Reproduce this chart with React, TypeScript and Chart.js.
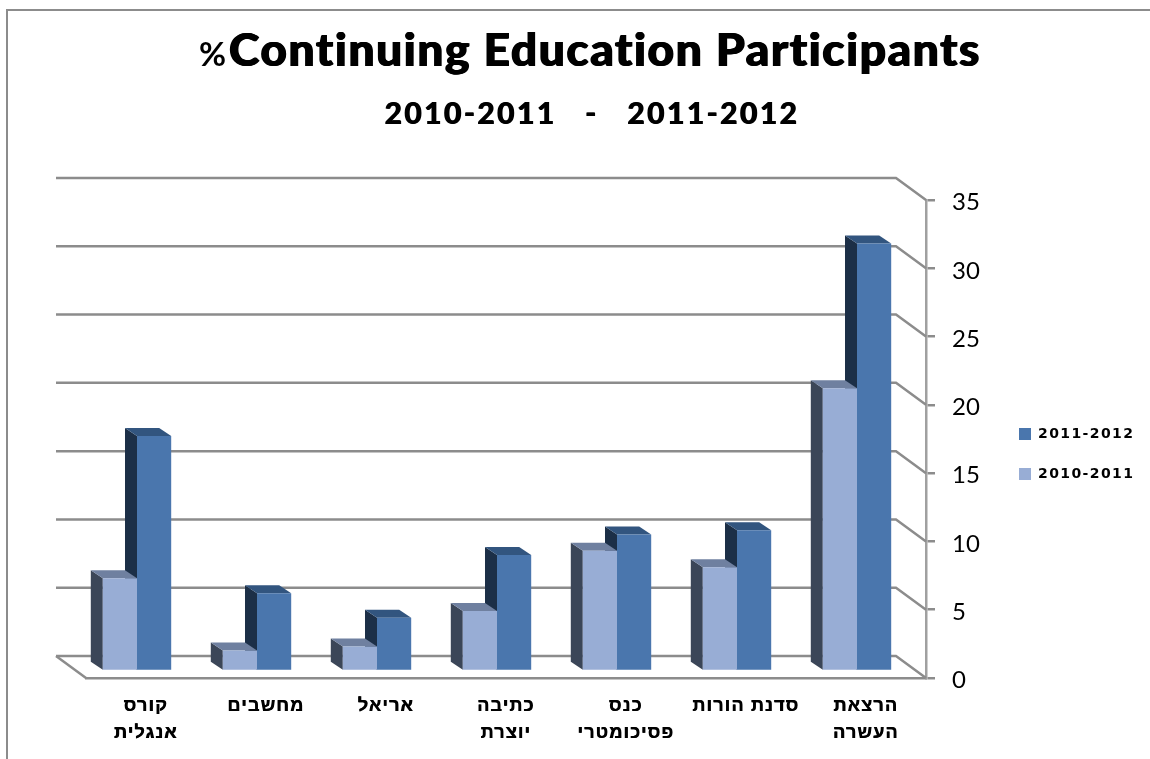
import React, { useEffect, useRef } from "react";
import { Chart, registerables } from "chart.js";

Chart.register(...registerables);

const categories: (string | string[])[] = [
  ["קורס", "אנגלית"],
  "מחשבים",
  "אריאל",
  ["כתיבה", "יוצרת"],
  ["כנס", "פסיכומטרי"],
  "סדנת הורות",
  ["הרצאת", "העשרה"],
];
const series2010 = [6.8, 1.5, 1.8, 4.4, 8.8, 7.6, 20.7];
const series2011 = [17.2, 5.7, 3.9, 8.5, 10.0, 10.3, 31.3];
const yMax = 35;
const yStep = 5;
const titleText = "Continuing Education Participants";
const titleMark = "%";
const subtitleText = "2010-2011   -   2011-2012";
const seriesNames = ["2010-2011", "2011-2012"];

const GRID = "#8c8c8c";
const WALL_DX = -30;
const WALL_DY = -22;
const BAR_DX = -9;
const BAR_DY = -7;
const DEPTH_DX = -12;
const DEPTH_DY = -8;
const FACES = [
  { front: "#98ADD5", side: "#3B4658", top: "#6F80A0" },
  { front: "#4A76AD", side: "#1C2F47", top: "#32557F" },
];

function poly(ctx: CanvasRenderingContext2D, pts: number[][], fill: string) {
  ctx.fillStyle = fill;
  ctx.beginPath();
  pts.forEach((p, i) => (i ? ctx.lineTo(p[0], p[1]) : ctx.moveTo(p[0], p[1])));
  ctx.closePath();
  ctx.fill();
}

// draws a chart box with letter spacing, an offset, and optional extra strikes for heavier text
function spaced(ctx: any, fn: Function, spacing: string, dx = 0, dy = 0, strikes: number[] = [0]) {
  return (...args: any[]) => {
    strikes.forEach((s) => {
      ctx.save();
      ctx.letterSpacing = spacing;
      ctx.translate(dx + s, dy);
      fn(...args);
      ctx.restore();
    });
  };
}

const depth3d = {
  id: "depth3d",
  beforeDraw(chart: any) {
    const ctx = chart.ctx;
    if (!chart.$wrapped) {
      chart.$wrapped = true;
      chart.boxes.forEach((b: any) => {
        const text = b.options && b.options.text;
        if (text === titleText) b.draw = spaced(ctx, b.draw.bind(b), "1.6px", -13, 0, [-0.7, 0, 0.7]);
        if (text === subtitleText) b.draw = spaced(ctx, b.draw.bind(b), "2.4px", -26, 1, [-0.4, 0.4]);
      });
      chart.legend.draw = spaced(ctx, chart.legend.draw.bind(chart.legend), "1.4px");
      const x = chart.scales.x;
      x.drawLabels = spaced(ctx, x.drawLabels.bind(x), "1.2px", 0, 0, [-0.3, 0.3]);
      const y = chart.scales.y;
      y.drawLabels = spaced(ctx, y.drawLabels.bind(y), "0px", 0, 2.5);
    }
    const lg = chart.legend;
    lg.left = 993;
    lg.right = 1150;
    lg.top = 401;
    lg.bottom = 700;
    // outer frame of the chart
    ctx.save();
    ctx.strokeStyle = GRID;
    ctx.lineWidth = 2;
    ctx.beginPath();
    ctx.moveTo(7, 759);
    ctx.lineTo(7, 10);
    ctx.lineTo(1150, 10);
    ctx.stroke();
    ctx.restore();
  },
  beforeDatasetsDraw(chart: any) {
    const ctx = chart.ctx;
    const { x, y } = chart.scales;
    const l = x.left;
    const r = x.right;
    ctx.save();
    ctx.strokeStyle = GRID;
    ctx.lineWidth = 2.5;
    y.ticks.forEach((t: any) => {
      const py = y.getPixelForValue(t.value);
      ctx.beginPath();
      ctx.moveTo(l + WALL_DX, py + WALL_DY);
      ctx.lineTo(r + WALL_DX, py + WALL_DY);
      ctx.lineTo(r, py);
      ctx.stroke();
    });
    const base = y.getPixelForValue(0);
    ctx.beginPath();
    ctx.moveTo(l + WALL_DX, base + WALL_DY);
    ctx.lineTo(l, base);
    ctx.stroke();
    ctx.restore();

    ctx.save();
    ctx.translate(BAR_DX, BAR_DY);
    // depth faces, back series first so the front faces sit over them
    [1, 0].forEach((ds) => {
      chart.getDatasetMeta(ds).data.forEach((bar: any) => {
        const L = bar.x - bar.width / 2;
        const R = bar.x + bar.width / 2;
        const T = bar.y;
        const B = bar.base;
        poly(ctx, [[L, T], [L + DEPTH_DX, T + DEPTH_DY], [L + DEPTH_DX, B + DEPTH_DY], [L, B]], FACES[ds].side);
        poly(ctx, [[L, T], [L + DEPTH_DX, T + DEPTH_DY], [R + DEPTH_DX, T + DEPTH_DY], [R, T]], FACES[ds].top);
      });
    });
  },
  afterDatasetsDraw(chart: any) {
    chart.ctx.restore();
  },
  afterDraw(chart: any) {
    const ctx = chart.ctx;
    ctx.save();
    ctx.font = "bold 33px Lato";
    ctx.fillStyle = "#000";
    ctx.textAlign = "left";
    ctx.textBaseline = "alphabetic";
    ctx.fillText(titleMark, 199, 66);
    ctx.restore();
  },
};

export default function App() {
  const ref = useRef<HTMLCanvasElement>(null);
  useEffect(() => {
    document.body.style.margin = "0";
    const chart = new Chart(ref.current!, {
      type: "bar",
      data: {
        labels: categories as any,
        datasets: [
          { label: seriesNames[0], data: series2010, backgroundColor: FACES[0].front, borderWidth: 0, clip: false as any },
          { label: seriesNames[1], data: series2011, backgroundColor: FACES[1].front, borderWidth: 0, clip: false as any },
        ],
      },
      plugins: [depth3d as any],
      options: {
        animation: false,
        responsive: false,
        devicePixelRatio: 1,
        layout: { padding: { left: 86, right: 0, top: 0, bottom: 0 } },
        datasets: { bar: { barPercentage: 1, categoryPercentage: 0.57 } },
        scales: {
          x: {
            grid: { display: false, drawTicks: false },
            border: { display: true, color: GRID, width: 2.5 },
            afterFit: (s: any) => { s.height = 81; },
            ticks: {
              autoSkip: false,
              maxRotation: 0,
              minRotation: 0,
              padding: 15,
              color: "#000",
              font: { family: "Liberation Sans", weight: "bold", size: 18, lineHeight: 1.5 },
            },
          },
          y: {
            position: "right",
            min: 0,
            max: yMax,
            afterFit: (s: any) => { s.width = 224; },
            grid: { drawOnChartArea: false, drawTicks: true, tickLength: 9, color: GRID, lineWidth: 2.5 },
            border: { display: true, color: "#a0a0a0", width: 2.5 },
            ticks: {
              stepSize: yStep,
              padding: 17,
              color: "#000",
              font: { family: "Lato", size: 24 },
            },
          },
        },
        plugins: {
          tooltip: { enabled: false },
          title: {
            display: true,
            text: titleText,
            color: "#000",
            font: { family: "Lato", weight: "900", size: 46, lineHeight: 1.2 },
            padding: { top: 24, bottom: 0 },
          },
          subtitle: {
            display: true,
            text: subtitleText,
            color: "#000",
            font: { family: "Lato", weight: "900", size: 30, lineHeight: 1.2 },
            padding: { top: 16, bottom: 68.8 },
          },
          legend: {
            display: true,
            position: "chartArea",
            align: "start",
            reverse: true,
            labels: {
              boxWidth: 12,
              boxHeight: 12,
              padding: 26,
              color: "#000",
              font: { family: "DejaVu Sans", weight: "bold", size: 14 },
            },
          },
        },
      },
    } as any);
    return () => chart.destroy();
  }, []);
  return <canvas ref={ref} width={1150} height={759} style={{ display: "block" }} />;
}
